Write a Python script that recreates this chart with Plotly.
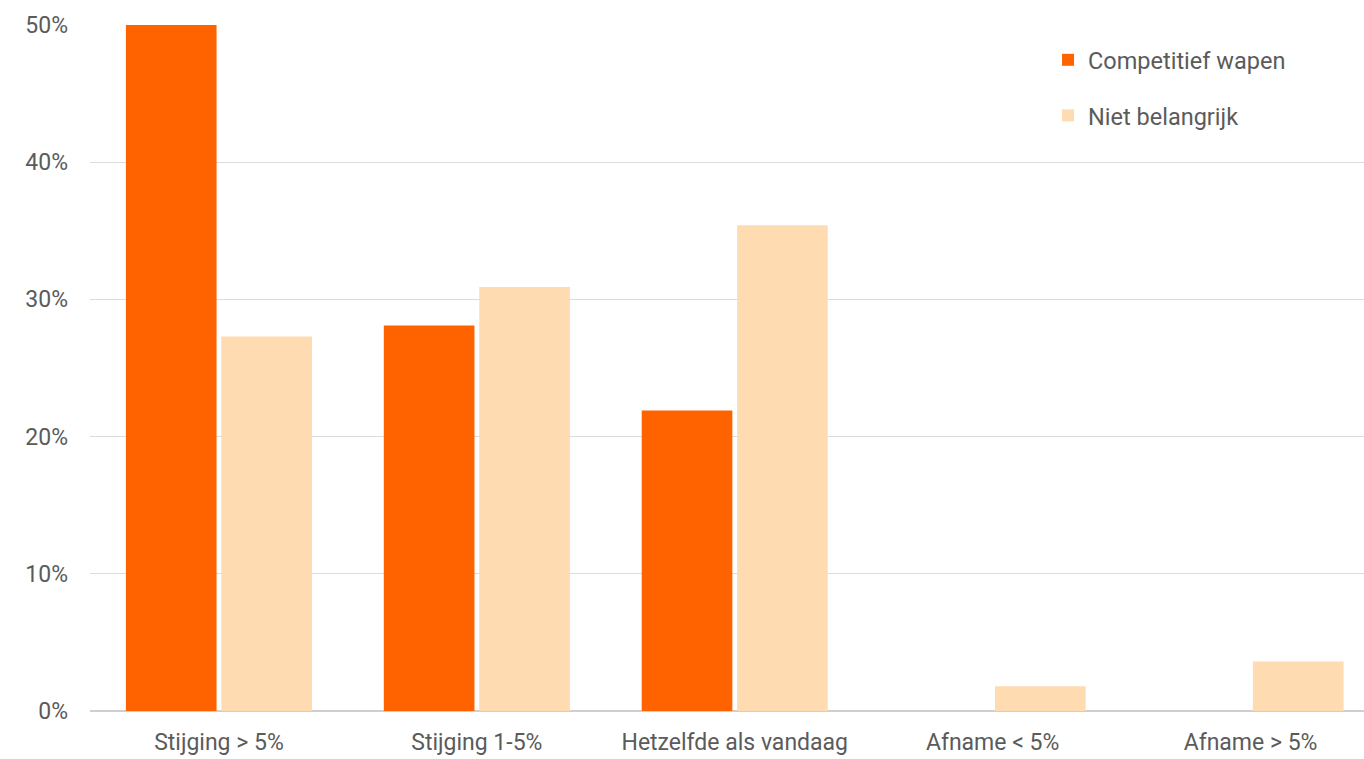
import plotly.graph_objects as go

categories = ["Stijging > 5%", "Stijging 1-5%", "Hetzelfde als vandaag", "Afname < 5%", "Afname > 5%"]
competitief = [50.0, 28.1, 21.9, 0.0, 0.0]
niet_belangrijk = [27.3, 30.9, 35.4, 1.8, 3.6]
y_ticks = [0, 10, 20, 30, 40, 50]
y_tick_text = ["0%", "10%", "20%", "30%", "40%", "50%"]

ORANGE = "#FF6300"
PEACH = "#FFDBB2"
TEXT = "#5b5b5b"
FONT = "Roboto"

fig = go.Figure()
fig.add_trace(go.Bar(x=categories, y=competitief, name="Competitief wapen",
                     marker=dict(color=ORANGE, line=dict(width=0)), legendgroup="a"))
fig.add_trace(go.Bar(x=categories, y=niet_belangrijk, name="Niet belangrijk",
                     marker=dict(color=PEACH, line=dict(width=0)), legendgroup="b"))

fig.update_layout(
    width=1364, height=759,
    margin=dict(l=89.5, r=0, t=25, b=48, pad=0),
    paper_bgcolor="white", plot_bgcolor="white",
    font=dict(family=FONT, color=TEXT, size=23),
    barmode="group", bargap=0.26, bargroupgap=0.05,
    showlegend=True,
    legend=dict(x=0.752, y=0.981, xanchor="left", yanchor="top",
                font=dict(family=FONT, size=23.5, color=TEXT),
                bgcolor="rgba(0,0,0,0)", tracegroupgap=22,
                itemwidth=30, traceorder="grouped"),
    xaxis=dict(type="category", range=[-0.5, 4.44], showgrid=False,
               showline=False, ticks="", tickfont=dict(size=23, color=TEXT),
               ticklabelstandoff=15, zeroline=False),
    yaxis=dict(range=[0, 50], tickvals=y_ticks, ticktext=y_tick_text,
               showgrid=True, gridcolor="#dcdcdc", gridwidth=1,
               zeroline=True, zerolinecolor="#cfcfcf", zerolinewidth=1.5,
               showline=False, ticks="", tickfont=dict(size=23, color=TEXT),
               ticklabelstandoff=21, fixedrange=True),
)

fig.write_html("out.html")
